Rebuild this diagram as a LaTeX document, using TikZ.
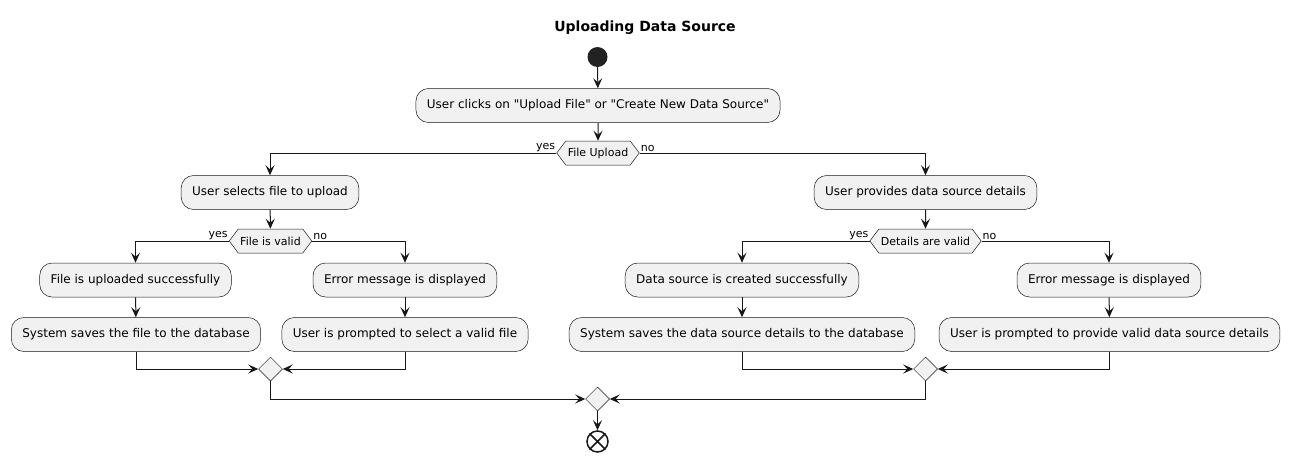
\documentclass[tikz,border=0pt]{standalone}
\usepackage{fontspec}
\setmainfont{DejaVu Sans}[Ligatures=TeXOff]
\usetikzlibrary{arrows.meta,shapes.geometric,shapes.symbols}
\definecolor{lc}{HTML}{181818}
\definecolor{fillc}{HTML}{F1F1F1}
\definecolor{startc}{HTML}{222222}
\tikzset{
  act/.style={draw=lc, line width=0.5pt, fill=fillc, rounded corners=12.5pt, minimum height=34pt, inner xsep=11pt, inner ysep=0pt, font=\fontsize{12}{14}\selectfont, text=black},
  hex/.style={signal, signal to=west and east, signal pointer angle=106, draw=lc, line width=0.5pt, fill=fillc, minimum height=24pt, inner xsep=2pt, inner ysep=0pt, font=\fontsize{11}{13}\selectfont, text=black},
  merge/.style={diamond, draw=lc, line width=0.5pt, fill=fillc, minimum width=24pt, minimum height=24pt, inner sep=0pt},
  arr/.style={draw=lc, line width=1pt, -{Stealth[length=10pt,width=9pt,inset=4pt]}},
  lbl/.style={font=\fontsize{11}{13}\selectfont, inner sep=1pt, text=black},
}
\begin{document}
\begin{tikzpicture}[x=1pt,y=-1pt]
\useasboundingbox (0,0) rectangle (1292,461);
\fill[white] (0,0) rectangle (1292,461);
\node[font=\bfseries\fontsize{14}{16}\selectfont] (title) at (645,28) {Uploading Data Source};
\node[circle, fill=startc, minimum size=20pt, inner sep=0pt] (start) at (597.5,57) {};
\node[act] (b1) at (598,105.5) {User clicks on "Upload File" or "Create New Data Source"};
\node[hex] (d1) at (598,153) {File Upload};
\node[act] (b2) at (270,192.5) {User selects file to upload};
\node[act] (b7) at (925.5,192.5) {User provides data source details};
\node[hex] (d2) at (270.5,241) {File is valid};
\node[hex] (d3) at (925.5,241) {Details are valid};
\node[act] (b3) at (135.5,280) {File is uploaded successfully};
\node[act] (b4) at (405,280) {Error message is displayed};
\node[act] (b5) at (136,334.5) {System saves the file to the database};
\node[act] (b6) at (405,334.5) {User is prompted to select a valid file};
\node[act] (b8) at (742,280) {Data source is created successfully};
\node[act] (b9) at (1109,280) {Error message is displayed};
\node[act] (b10) at (742,334.5) {System saves the data source details to the database};
\node[act] (b11) at (1109.5,334.5) {User is prompted to provide valid data source details};
\node[merge] (m1) at (270.5,369) {};
\node[merge] (m2) at (925.5,369) {};
\node[merge] (m3) at (597.5,399) {};
\node[circle, draw=lc, line width=1.5pt, fill=white, minimum size=21pt, inner sep=0pt] (end) at (597.5,441.5) {};
\draw[lc, line width=1.5pt] (end.north west) -- (end.south east) (end.north east) -- (end.south west);

\draw[arr] (start) -- (b1);
\draw[arr] (b1) -- (d1);
\draw[arr] (d1.west) -| (b2.north);
\draw[arr] (d1.east) -| (b7.north);
\node[lbl, anchor=south east] (y1) at (d1.west) {yes};
\node[lbl, anchor=south west] (n1) at (d1.east) {no};
\draw[arr] (b2) -- (d2);
\draw[arr] (d2.west) -| (b3.north);
\draw[arr] (d2.east) -| (b4.north);
\node[lbl, anchor=south east] (y2) at (d2.west) {yes};
\node[lbl, anchor=south west] (n2) at (d2.east) {no};
\draw[arr] (b7) -- (d3);
\draw[arr] (d3.west) -| (b8.north);
\draw[arr] (d3.east) -| (b9.north);
\node[lbl, anchor=south east] (y3) at (d3.west) {yes};
\node[lbl, anchor=south west] (n3) at (d3.east) {no};
\draw[arr] (b3) -- (b5);
\draw[arr] (b4) -- (b6);
\draw[arr] (b8) -- (b10);
\draw[arr] (b9) -- (b11);
\draw[arr] (b5.south) |- (m1.west);
\draw[arr] (b6.south) |- (m1.east);
\draw[arr] (b10.south) |- (m2.west);
\draw[arr] (b11.south) |- (m2.east);
\draw[arr] (m1.south) |- (m3.west);
\draw[arr] (m2.south) |- (m3.east);
\draw[arr] (m3) -- (end);
\end{tikzpicture}
\end{document}
